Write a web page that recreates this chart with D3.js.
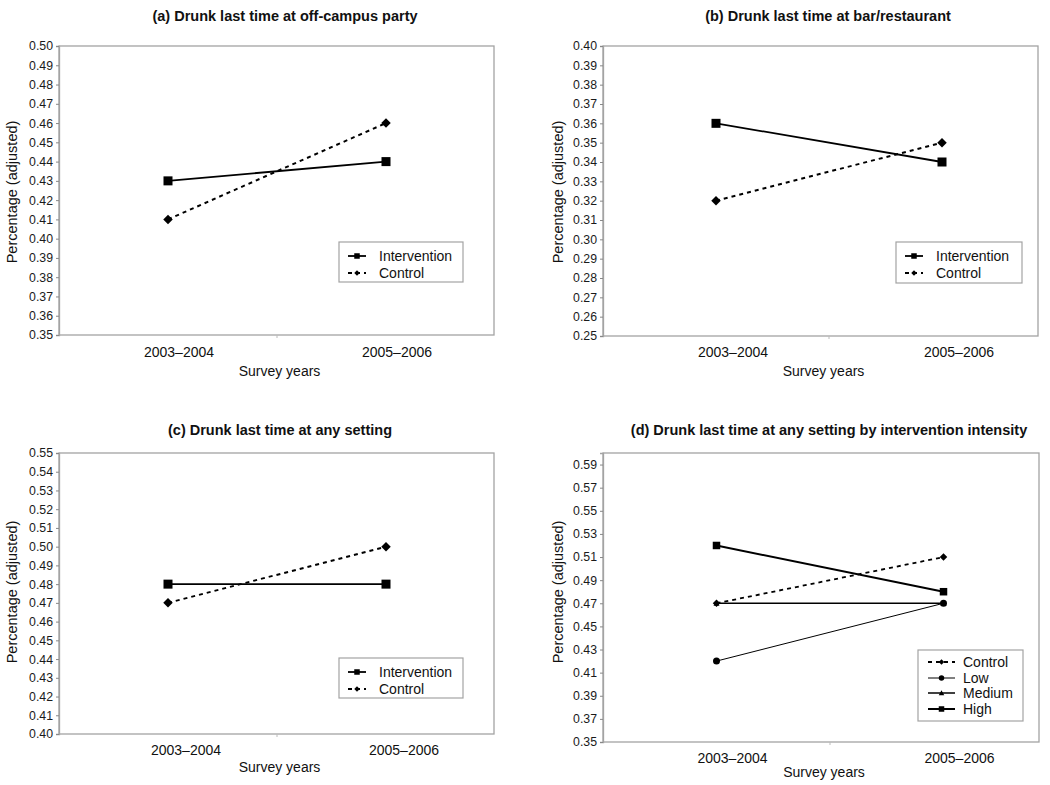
<!DOCTYPE html>
<html>
<head>
<meta charset="utf-8">
<script src="https://cdn.jsdelivr.net/npm/d3@7"></script>
<style>
  body { margin: 0; background: #fff; }
  svg { display: block; font-family: "Liberation Sans", Arial, sans-serif; }
</style>
</head>
<body>
<svg id="chart" width="1050" height="785"></svg>
<script>
// ---------- DATA ----------
const categories = ["2003–2004", "2005–2006"];

const partyIntervention = [0.43, 0.44];
const partyControl      = [0.41, 0.46];

const barIntervention = [0.36, 0.34];
const barControl      = [0.32, 0.35];

const anyIntervention = [0.48, 0.48];
const anyControl      = [0.47, 0.50];

const intensityControl = [0.47, 0.51];
const intensityLow     = [0.42, 0.47];
const intensityMedium  = [0.47, 0.47];
const intensityHigh    = [0.52, 0.48];

const ticksA = [0.35,0.36,0.37,0.38,0.39,0.40,0.41,0.42,0.43,0.44,0.45,0.46,0.47,0.48,0.49,0.50];
const ticksB = [0.25,0.26,0.27,0.28,0.29,0.30,0.31,0.32,0.33,0.34,0.35,0.36,0.37,0.38,0.39,0.40];
const ticksC = [0.40,0.41,0.42,0.43,0.44,0.45,0.46,0.47,0.48,0.49,0.50,0.51,0.52,0.53,0.54,0.55];
const ticksD = [0.35,0.37,0.39,0.41,0.43,0.45,0.47,0.49,0.51,0.53,0.55,0.57,0.59];

const titles = [
  "(a) Drunk last time at off-campus party",
  "(b) Drunk last time at bar/restaurant",
  "(c) Drunk last time at any setting",
  "(d) Drunk last time at any setting by intervention intensity"
];
const yAxisTitle = "Percentage (adjusted)";
const xAxisTitle = "Survey years";

// ---------- STYLES ----------
const S_INT  = {name:"Intervention", marker:"square",  size:9, width:1.8, dash:null};
const S_CON  = {name:"Control",      marker:"diamond", size:9.5, width:2, dash:"4,4"};
const S_DCON = {name:"Control",      marker:"diamond", size:7.5, width:1.8, dash:"4,4"};
const S_LOW  = {name:"Low",          marker:"circle",  size:7, width:1,   dash:null};
const S_MED  = {name:"Medium",       marker:"triangle",size:6, width:1.5, dash:null};
const S_HIGH = {name:"High",         marker:"square",  size:7.5, width:2,   dash:null};

const panels = [
  { title: titles[0], titleX: 285, titleY: 21,
    frame: {x0:59, x1:494, y0:46, y1:335}, xr:[59,495], yDomain:[0.35,0.50], ticks: ticksA,
    labelDx: 11, catY: 357, xtY: 376, ytX: 17, ytY: 192,
    series: [{v: partyIntervention, s: S_INT}, {v: partyControl, s: S_CON}],
    legend: {x0:339, y0:242, x1:463, y1:282, sx0:348, sx1:366, tx:379, ry:[256,273], ms:5.5} },
  { title: titles[1], titleX: 828, titleY: 21,
    frame: {x0:603, x1:1038, y0:46, y1:336}, xr:[603,1055], yDomain:[0.25,0.40], ticks: ticksB,
    labelDx: 17, catY: 357, xtY: 376, ytX: 563, ytY: 192,
    series: [{v: barIntervention, s: S_INT}, {v: barControl, s: S_CON}],
    legend: {x0:896, y0:242, x1:1022, y1:283, sx0:905, sx1:923, tx:936, ry:[256,273], ms:5.5} },
  { title: titles[2], titleX: 280, titleY: 435,
    frame: {x0:59, x1:494, y0:453, y1:734}, xr:[59,495], yDomain:[0.40,0.55], ticks: ticksC,
    labelDx: 18, catY: 755, xtY: 772, ytX: 17, ytY: 592,
    series: [{v: anyIntervention, s: S_INT}, {v: anyControl, s: S_CON}],
    legend: {x0:339, y0:658, x1:463, y1:698, sx0:348, sx1:366, tx:379, ry:[672,689], ms:5.5} },
  { title: titles[3], titleX: 829, titleY: 435,
    frame: {x0:603, x1:1039, y0:453, y1:742}, xr:[603,1057], yDomain:[0.35,0.60], ticks: ticksD,
    labelDx: 16, catY: 763, xtY: 777, ytX: 563, ytY: 592,
    series: [{v: intensityLow, s: S_LOW}, {v: intensityMedium, s: S_MED}, {v: intensityHigh, s: S_HIGH}, {v: intensityControl, s: S_DCON}],
    legendOrder: [3,0,1,2],
    legend: {x0:918, y0:650, x1:1023, y1:721, sx0:928, sx1:955, tx:963, ry:[662,678,693,709], ms:5.5} }
];

const svg = d3.select("#chart");
const GRAY = "#a3a3a3";

function drawMarker(g, type, cx, cy, size) {
  const r = size / 2;
  if (type === "square") {
    g.append("rect").attr("x", cx - r).attr("y", cy - r).attr("width", size).attr("height", size).attr("fill", "#000");
  } else if (type === "diamond") {
    g.append("path").attr("d", `M${cx},${cy - r}L${cx + r},${cy}L${cx},${cy + r}L${cx - r},${cy}Z`).attr("fill", "#000");
  } else if (type === "circle") {
    g.append("circle").attr("cx", cx).attr("cy", cy).attr("r", r).attr("fill", "#000");
  } else if (type === "triangle") {
    g.append("path").attr("d", `M${cx},${cy - r}L${cx + r},${cy + r*0.8}L${cx - r},${cy + r*0.8}Z`).attr("fill", "#000");
  }
}

panels.forEach(p => {
  const g = svg.append("g");
  const f = p.frame;
  const x = d3.scaleBand().domain(categories).range(p.xr);
  const y = d3.scaleLinear().domain(p.yDomain).range([f.y1, f.y0]);

  // title
  g.append("text").attr("x", p.titleX).attr("y", p.titleY).attr("text-anchor", "middle")
    .attr("font-size", "14.5px").attr("font-weight", "bold").attr("fill", "#111").text(p.title);

  // frame
  g.append("rect").attr("x", f.x0).attr("y", f.y0).attr("width", f.x1 - f.x0).attr("height", f.y1 - f.y0)
    .attr("fill", "none").attr("stroke", GRAY).attr("stroke-width", 1.3);

  // y axis
  const yAxis = d3.axisLeft(y).tickValues(p.ticks).tickFormat(d3.format(".2f")).tickSize(3).tickPadding(3);
  const ya = g.append("g").attr("transform", `translate(${f.x0},0)`).call(yAxis);
  ya.select(".domain").attr("stroke", GRAY).attr("stroke-width", 1.3);
  ya.selectAll(".tick line").attr("stroke", "#888");
  ya.selectAll(".tick text").attr("font-size", "12.3px").attr("fill", "#1a1a1a")
    .attr("font-family", "'Liberation Sans', Arial, sans-serif");

  // x boundary tick (middle)
  const bounds = categories.slice(1).map(c => x(c));
  g.selectAll(".xb").data(bounds).enter().append("line")
    .attr("x1", d => d).attr("x2", d => d).attr("y1", f.y1).attr("y2", f.y1 + 3)
    .attr("stroke", "#bbb").attr("stroke-width", 1);

  // category labels
  g.selectAll(".cat").data(categories).enter().append("text")
    .attr("x", d => x(d) + x.bandwidth() / 2 + p.labelDx).attr("y", p.catY)
    .attr("text-anchor", "middle").attr("font-size", "14px").attr("fill", "#111").text(d => d);

  // axis titles
  g.append("text").attr("x", (f.x0 + f.x1) / 2 + 3).attr("y", p.xtY).attr("text-anchor", "middle")
    .attr("font-size", "14px").attr("fill", "#111").text(xAxisTitle);
  g.append("text").attr("transform", `translate(${p.ytX},${p.ytY}) rotate(-90)`).attr("text-anchor", "middle")
    .attr("font-size", "14.5px").attr("fill", "#111").text(yAxisTitle);

  // series
  const line = d3.line().x((d, i) => x(categories[i]) + x.bandwidth() / 2).y(d => y(d));
  p.series.forEach(sr => {
    g.append("path").attr("d", line(sr.v)).attr("fill", "none").attr("stroke", "#000")
      .attr("stroke-width", sr.s.width).attr("stroke-dasharray", sr.s.dash);
    sr.v.forEach((v, i) => drawMarker(g, sr.s.marker, x(categories[i]) + x.bandwidth() / 2, y(v), sr.s.size));
  });

  // legend
  const L = p.legend;
  g.append("rect").attr("x", L.x0).attr("y", L.y0).attr("width", L.x1 - L.x0).attr("height", L.y1 - L.y0)
    .attr("fill", "#fff").attr("stroke", GRAY).attr("stroke-width", 1.2);
  const order = p.legendOrder || p.series.map((_, i) => i);
  order.forEach((si, k) => {
    const sr = p.series[si];
    const ry = L.ry[k];
    g.append("line").attr("x1", L.sx0).attr("x2", L.sx1).attr("y1", ry).attr("y2", ry)
      .attr("stroke", "#000").attr("stroke-width", sr.s.width).attr("stroke-dasharray", sr.s.dash);
    drawMarker(g, sr.s.marker, (L.sx0 + L.sx1) / 2, ry, L.ms);
    g.append("text").attr("x", L.tx).attr("y", ry).attr("dy", "0.35em")
      .attr("font-size", "14px").attr("fill", "#111").text(sr.s.name);
  });
});
</script>
</body>
</html>
